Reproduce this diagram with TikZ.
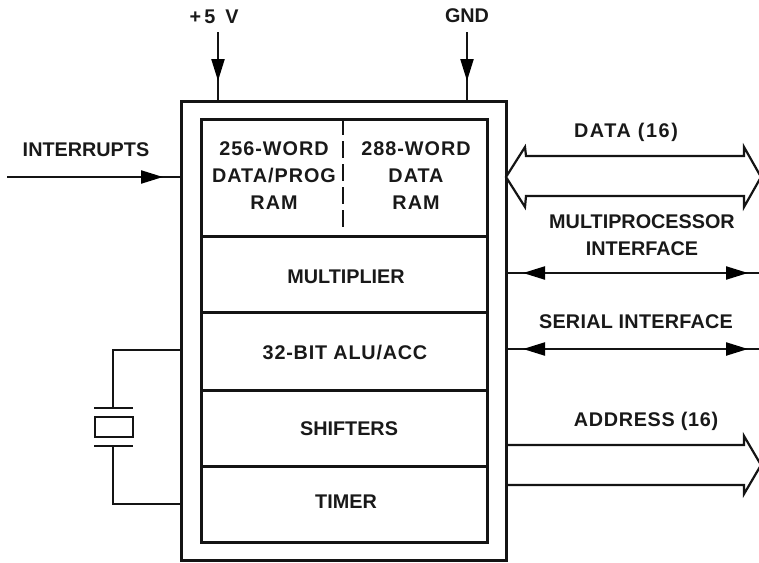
\documentclass[tikz,border=0pt]{standalone}
\usepackage{fontspec}
\setmainfont{Liberation Sans}
\usetikzlibrary{arrows.meta,decorations.markings,calc}
\tikzset{
  x=1pt,y=-1pt,
  ink/.style={draw=black!92},
  lab/.style={inner sep=0pt,font=\fontsize{19.8}{27}\selectfont\bfseries,text=black!90,align=center},
  spaced/.style={lab,font=\fontsize{19.8}{27}\selectfont\bfseries\addfontfeature{LetterSpace=#1}},
  outerbox/.style={ink,line width=3pt,inner sep=0pt,anchor=north west,minimum width=325pt,minimum height=459pt},
  rowbox/.style={ink,line width=2.8pt,inner sep=0pt,anchor=north west,minimum width=286pt},
  wire/.style={ink,line width=2.2pt},
  thinwire/.style={ink,line width=2pt},
  bus/.style={ink,line width=2.2pt,line join=miter,fill=white},
  headat/.style={postaction={decorate,decoration={markings,mark=at position #1 with {\arrow[black]{Triangle[length=22pt,width=13pt]}}}}},
  headback/.style={postaction={decorate,decoration={markings,mark=at position #1 with {\arrowreversed[black]{Triangle[length=22pt,width=13pt]}}}}},
}
\begin{document}
\begin{tikzpicture}
\useasboundingbox (0,0) rectangle (759,562);
% chip
\node[outerbox] (chip) at (180,100) {};
\node[rowbox,minimum height=117pt] (ram) at (200,118) {};
\node[rowbox,minimum height=76pt] (mult) at (200,235) {};
\node[rowbox,minimum height=78pt] (alu) at (200,311) {};
\node[rowbox,minimum height=76pt] (shift) at (200,389) {};
\node[rowbox,minimum height=76pt] (timer) at (200,465) {};
\coordinate (divtop) at (343,118);
\coordinate (divbot) at (343,229);
\draw[ink,line width=2pt,dash pattern=on 17pt off 6pt] (divtop) -- (divbot);
% labels in chip
\node[spaced=5] (l256) at (274,176) {256-WORD\\DATA/PROG\\RAM};
\node[spaced=5] (l288) at (416,176) {288-WORD\\DATA\\RAM};
\node[lab] (lmult) at (346,277) {MULTIPLIER};
\node[spaced=4] (lalu) at (345,353) {32-BIT ALU/ACC};
\node[lab] (lshift) at (349,429) {SHIFTERS};
\node[lab] (ltimer) at (346,502) {TIMER};
% power
\node[lab] (vcc) at (214,17) {+\,5\,\,\,V};
\node[lab] (gnd) at (467,16) {GND};
\coordinate (vccs) at (218,32);
\coordinate (gnds) at (467,32);
\draw[wire,headat=49pt] (vccs) -- (vccs |- chip.north);
\draw[wire,headat=49pt] (gnds) -- (gnds |- chip.north);
% interrupts
\node[lab] (lint) at (86,150) {INTERRUPTS};
\coordinate (ints) at (7,177);
\draw[wire,headat=156pt] (ints) -- (ints -| chip.west);
% data bus
\node[spaced=8] (ldata) at (626,132) {DATA (16)};
\coordinate (dl) at (506,177);
\coordinate (dr) at (761,177);
\draw[bus] (dl) -- ($(dl)+(19,-30)$) -- ($(dl)+(20,-21)$) -- ($(dr)+(-17,-21)$) -- ($(dr)+(-17,-30)$) -- (dr)
  -- ($(dr)+(-17,30)$) -- ($(dr)+(-17,19)$) -- ($(dl)+(20,19)$) -- ($(dl)+(19,30)$) -- cycle;
% multiprocessor
\node[lab] (lmp) at (642,222) {MULTIPROCESSOR};
\node[lab] (lmp2) at (642,249) {INTERFACE};
\coordinate (mpr) at (759,273);
\draw[wire,headback=15pt,headat=240pt] (chip.east |- mpr) -- (mpr);
% serial
\node[spaced=1.3] (lser) at (636,322) {SERIAL INTERFACE};
\coordinate (serr) at (759,349);
\draw[wire,headback=15pt,headat=240pt] (chip.east |- serr) -- (serr);
% address
\node[spaced=3.4] (laddr) at (646,421) {ADDRESS (16)};
\coordinate (atip) at (761,465);
\coordinate (atop) at (744,445);
\coordinate (abot) at (744,485);
\draw[bus] (chip.east |- atop) -- (atop) -- ($(atop)+(0,-9)$) -- (atip) -- ($(abot)+(0,9)$) -- (abot) -- (chip.east |- abot);
% crystal
\coordinate (xt) at (113,350);
\coordinate (xb) at (113,504);
\node[ink,line width=2pt,inner sep=0pt,minimum width=38pt,minimum height=20pt] (xtal) at (114,427) {};
\coordinate (pt) at (113,408);
\coordinate (pb) at (113,446);
\draw[ink,line width=2pt] ($(pt)+(-19,0)$) -- ($(pt)+(20,0)$);
\draw[ink,line width=2pt] ($(pb)+(-19,0)$) -- ($(pb)+(20,0)$);
\draw[thinwire] (chip.west |- xt) -- (xt) -- (pt);
\draw[thinwire] (pb) -- (xb) -- (chip.west |- xb);
\end{tikzpicture}
\end{document}
